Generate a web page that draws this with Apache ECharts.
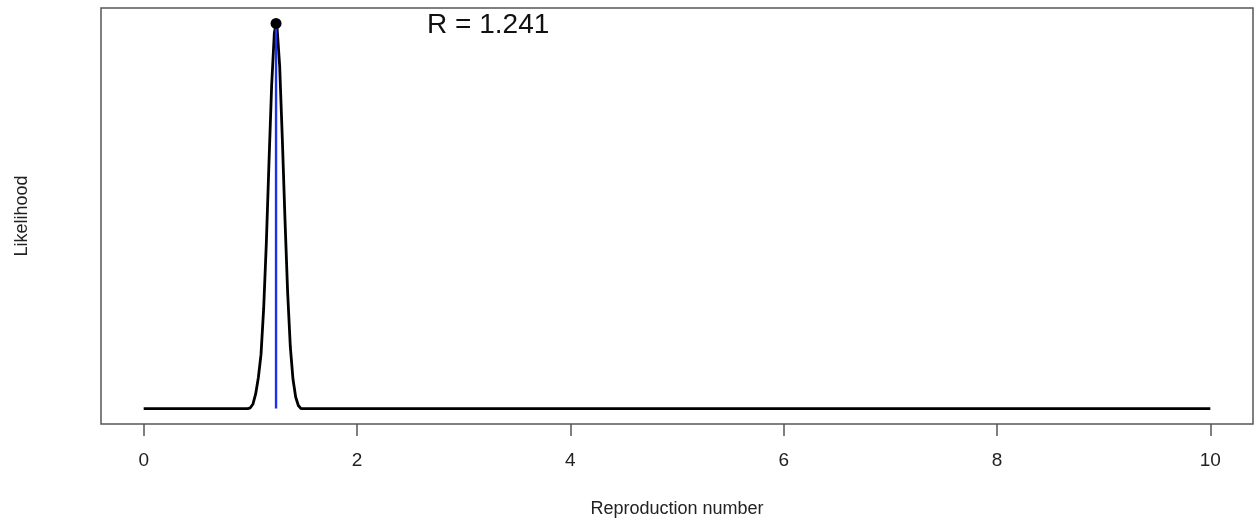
<!doctype html>
<html>
    <head>
        <meta charset="utf-8">
        <style>
            html, body { margin: 0; padding: 0; background: #fff; }
            #main { width: 1256px; height: 522px; }
        </style>
    </head>
    <body>
        <div id="main"></div>
        <script src="https://cdn.jsdelivr.net/npm/echarts@6/dist/echarts.min.js"></script>
        <script>
            // likelihood profile, normalised to its maximum
            var rValues = [0, 0.975, 1.0, 1.025, 1.05, 1.075, 1.1, 1.125, 1.15, 1.175, 1.2, 1.225, 1.241,
                1.25, 1.275, 1.3, 1.325, 1.35, 1.375, 1.4, 1.425, 1.45, 1.475, 10];
            var likelihood = [0, 0, 0.002, 0.012, 0.038, 0.08, 0.14, 0.26, 0.43, 0.64, 0.84, 0.975, 1,
                0.992, 0.89, 0.70, 0.49, 0.30, 0.16, 0.076, 0.03, 0.008, 0, 0];
            var rHat = 1.241;
            var peak = 1;
            var labelPos = [3.23, 0.995];
            var xTicks = [0, 2, 4, 6, 8, 10];

            var font = 'Liberation Sans, Arial, sans-serif';
            var chart = echarts.init(document.getElementById('main'));

            chart.setOption({
                animation: false,
                grid: {
                    left: 101, right: 3, top: 8, bottom: 98,
                    outerBoundsMode: 'none',
                    containLabel: false,
                    show: true,
                    borderColor: '#555',
                    borderWidth: 1.5
                },
                xAxis: {
                    type: 'value',
                    min: -0.4,
                    max: 10.4,
                    name: 'Reproduction number',
                    nameLocation: 'middle',
                    nameGap: 76,
                    nameTextStyle: { fontFamily: font, fontSize: 18, color: '#222' },
                    axisLine: { show: false, onZero: false },
                    axisTick: {
                        show: true, inside: false, length: 12, customValues: xTicks,
                        lineStyle: { color: '#555', width: 1.5 }
                    },
                    axisLabel: {
                        customValues: xTicks, margin: 27,
                        fontFamily: font, fontSize: 19, color: '#222'
                    },
                    splitLine: { show: false }
                },
                yAxis: {
                    type: 'value',
                    min: -0.04,
                    max: 1.04,
                    name: 'Likelihood',
                    nameLocation: 'middle',
                    nameGap: 70,
                    nameTextStyle: { fontFamily: font, fontSize: 18, color: '#222' },
                    axisLine: { show: false, onZero: false },
                    axisTick: { show: false },
                    axisLabel: { show: false },
                    splitLine: { show: false }
                },
                series: [{
                    type: 'line',
                    data: rValues.map(function (r, i) { return [r, likelihood[i]]; }),
                    symbol: 'none',
                    lineStyle: { color: '#000', width: 2.8 },
                    z: 2
                }, {
                    type: 'line',
                    data: [[rHat, 0], [rHat, peak]],
                    symbol: 'none',
                    lineStyle: { color: '#1f30ee', width: 2.4 },
                    z: 3
                }, {
                    type: 'scatter',
                    data: [[rHat, peak]],
                    symbol: 'circle',
                    symbolSize: 11,
                    itemStyle: { color: '#000', opacity: 1 },
                    z: 4
                }, {
                    type: 'scatter',
                    data: [labelPos],
                    symbolSize: 0,
                    itemStyle: { opacity: 1 },
                    label: {
                        show: true,
                        position: 'inside',
                        formatter: 'R = ' + rHat,
                        fontFamily: font,
                        fontSize: 28,
                        color: '#111'
                    },
                    z: 5
                }]
            });

            window.onresize = chart.resize;
        </script>
    </body>
</html>
